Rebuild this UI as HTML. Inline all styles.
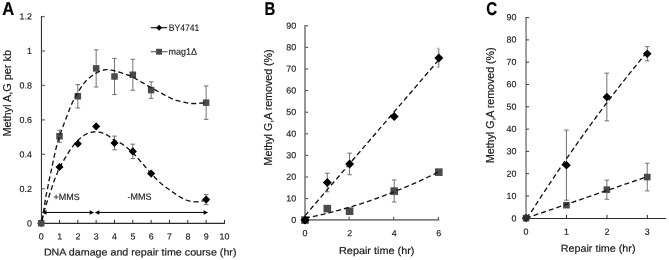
<!DOCTYPE html>
<html><head><meta charset="utf-8"><title>Figure</title>
<style>
html,body{margin:0;padding:0;background:#fff;}
body{width:669px;height:260px;overflow:hidden;font-family:"Liberation Sans",sans-serif;}
svg{display:block;will-change:transform;}
svg text{font-family:"Liberation Sans",sans-serif;}
</style></head><body>
<svg width="669" height="260" viewBox="0 0 669 260">
<rect width="669" height="260" fill="#ffffff"/>
<path d="M41.44 16.06V223.85" stroke="#2b2b2b" stroke-width="1.05" fill="none"/>
<path d="M40.9 223.35H224.97" stroke="#2b2b2b" stroke-width="1.05" fill="none"/>
<path d="M41.9 223.20H44.9" stroke="#707070" stroke-width="1.3"/>
<text x="32.00" y="226.50" transform="rotate(0.03 32.00 226.50)" font-size="8.9" text-anchor="end" fill="#1c1c1c" stroke="#1c1c1c" stroke-width="0.15" textLength="4.95" lengthAdjust="spacingAndGlyphs">0</text>
<path d="M41.9 188.76H44.9" stroke="#707070" stroke-width="1.3"/>
<text x="32.00" y="192.01" transform="rotate(0.03 32.00 192.01)" font-size="8.9" text-anchor="end" fill="#1c1c1c" stroke="#1c1c1c" stroke-width="0.15" textLength="12.37" lengthAdjust="spacingAndGlyphs">0.2</text>
<path d="M41.9 154.32H44.9" stroke="#707070" stroke-width="1.3"/>
<text x="32.00" y="157.52" transform="rotate(0.03 32.00 157.52)" font-size="8.9" text-anchor="end" fill="#1c1c1c" stroke="#1c1c1c" stroke-width="0.15" textLength="12.37" lengthAdjust="spacingAndGlyphs">0.4</text>
<path d="M41.9 119.88H44.9" stroke="#707070" stroke-width="1.3"/>
<text x="32.00" y="123.03" transform="rotate(0.03 32.00 123.03)" font-size="8.9" text-anchor="end" fill="#1c1c1c" stroke="#1c1c1c" stroke-width="0.15" textLength="12.37" lengthAdjust="spacingAndGlyphs">0.6</text>
<path d="M41.9 85.44H44.9" stroke="#707070" stroke-width="1.3"/>
<text x="32.00" y="88.54" transform="rotate(0.03 32.00 88.54)" font-size="8.9" text-anchor="end" fill="#1c1c1c" stroke="#1c1c1c" stroke-width="0.15" textLength="12.37" lengthAdjust="spacingAndGlyphs">0.8</text>
<path d="M41.9 51.00H44.9" stroke="#707070" stroke-width="1.3"/>
<text x="32.00" y="54.05" transform="rotate(0.03 32.00 54.05)" font-size="8.9" text-anchor="end" fill="#1c1c1c" stroke="#1c1c1c" stroke-width="0.15" textLength="4.95" lengthAdjust="spacingAndGlyphs">1</text>
<path d="M41.9 16.56H44.9" stroke="#707070" stroke-width="1.3"/>
<text x="32.00" y="19.56" transform="rotate(0.03 32.00 19.56)" font-size="8.9" text-anchor="end" fill="#1c1c1c" stroke="#1c1c1c" stroke-width="0.15" textLength="12.37" lengthAdjust="spacingAndGlyphs">1.2</text>
<path d="M41.17 223.35V219.9" stroke="#2b2b2b" stroke-width="1"/>
<text x="41.27" y="239.40" transform="rotate(0.03 41.27 239.40)" font-size="8.9" text-anchor="middle" fill="#1c1c1c" stroke="#1c1c1c" stroke-width="0.15" textLength="4.95" lengthAdjust="spacingAndGlyphs">0</text>
<path d="M59.50 223.35V219.9" stroke="#2b2b2b" stroke-width="1"/>
<text x="59.60" y="239.40" transform="rotate(0.03 59.60 239.40)" font-size="8.9" text-anchor="middle" fill="#1c1c1c" stroke="#1c1c1c" stroke-width="0.15" textLength="4.95" lengthAdjust="spacingAndGlyphs">1</text>
<path d="M77.83 223.35V219.9" stroke="#2b2b2b" stroke-width="1"/>
<text x="77.93" y="239.40" transform="rotate(0.03 77.93 239.40)" font-size="8.9" text-anchor="middle" fill="#1c1c1c" stroke="#1c1c1c" stroke-width="0.15" textLength="4.95" lengthAdjust="spacingAndGlyphs">2</text>
<path d="M96.16 223.35V219.9" stroke="#2b2b2b" stroke-width="1"/>
<text x="96.26" y="239.40" transform="rotate(0.03 96.26 239.40)" font-size="8.9" text-anchor="middle" fill="#1c1c1c" stroke="#1c1c1c" stroke-width="0.15" textLength="4.95" lengthAdjust="spacingAndGlyphs">3</text>
<path d="M114.49 223.35V219.9" stroke="#2b2b2b" stroke-width="1"/>
<text x="114.59" y="239.40" transform="rotate(0.03 114.59 239.40)" font-size="8.9" text-anchor="middle" fill="#1c1c1c" stroke="#1c1c1c" stroke-width="0.15" textLength="4.95" lengthAdjust="spacingAndGlyphs">4</text>
<path d="M132.82 223.35V219.9" stroke="#2b2b2b" stroke-width="1"/>
<text x="132.92" y="239.40" transform="rotate(0.03 132.92 239.40)" font-size="8.9" text-anchor="middle" fill="#1c1c1c" stroke="#1c1c1c" stroke-width="0.15" textLength="4.95" lengthAdjust="spacingAndGlyphs">5</text>
<path d="M151.15 223.35V219.9" stroke="#2b2b2b" stroke-width="1"/>
<text x="151.25" y="239.40" transform="rotate(0.03 151.25 239.40)" font-size="8.9" text-anchor="middle" fill="#1c1c1c" stroke="#1c1c1c" stroke-width="0.15" textLength="4.95" lengthAdjust="spacingAndGlyphs">6</text>
<path d="M169.48 223.35V219.9" stroke="#2b2b2b" stroke-width="1"/>
<text x="169.58" y="239.40" transform="rotate(0.03 169.58 239.40)" font-size="8.9" text-anchor="middle" fill="#1c1c1c" stroke="#1c1c1c" stroke-width="0.15" textLength="4.95" lengthAdjust="spacingAndGlyphs">7</text>
<path d="M187.81 223.35V219.9" stroke="#2b2b2b" stroke-width="1"/>
<text x="187.91" y="239.40" transform="rotate(0.03 187.91 239.40)" font-size="8.9" text-anchor="middle" fill="#1c1c1c" stroke="#1c1c1c" stroke-width="0.15" textLength="4.95" lengthAdjust="spacingAndGlyphs">8</text>
<path d="M206.14 223.35V219.9" stroke="#2b2b2b" stroke-width="1"/>
<text x="206.24" y="239.40" transform="rotate(0.03 206.24 239.40)" font-size="8.9" text-anchor="middle" fill="#1c1c1c" stroke="#1c1c1c" stroke-width="0.15" textLength="4.95" lengthAdjust="spacingAndGlyphs">9</text>
<path d="M224.47 223.35V219.9" stroke="#2b2b2b" stroke-width="1"/>
<text x="224.57" y="239.40" transform="rotate(0.03 224.57 239.40)" font-size="8.9" text-anchor="middle" fill="#1c1c1c" stroke="#1c1c1c" stroke-width="0.15" textLength="9.90" lengthAdjust="spacingAndGlyphs">10</text>
<text x="43.90" y="255.40" transform="rotate(0.03 43.90 255.40)" font-size="9.9" text-anchor="start" fill="#1c1c1c" stroke="#1c1c1c" stroke-width="0.2" textLength="192.60" lengthAdjust="spacingAndGlyphs">DNA damage and repair time course (hr)</text>
<text transform="translate(10.80,136.60) rotate(-90)" font-size="10.8" text-anchor="start" fill="#1c1c1c" stroke="#1c1c1c" stroke-width="0.2" textLength="86.60" lengthAdjust="spacingAndGlyphs">Methyl A,G per kb</text>
<text x="2.30" y="15.00" transform="rotate(0.03 2.30 15.00)" font-size="18.6" text-anchor="start" font-weight="bold" fill="#000" stroke="#000" stroke-width="0.2" textLength="12.00" lengthAdjust="spacingAndGlyphs">A</text>
<path d="M59.50 130.21V142.27M57.20 130.21h4.60M57.20 142.27h4.60" stroke="#626262" stroke-width="0.9" fill="none"/>
<path d="M77.83 84.58V108.00M75.53 84.58h4.60M75.53 108.00h4.60" stroke="#626262" stroke-width="0.9" fill="none"/>
<path d="M96.16 49.79V86.99M93.86 49.79h4.60M93.86 86.99h4.60" stroke="#626262" stroke-width="0.9" fill="none"/>
<path d="M114.49 58.40V94.57M112.19 58.40h4.60M112.19 94.57h4.60" stroke="#626262" stroke-width="0.9" fill="none"/>
<path d="M132.82 59.27V90.26M130.52 59.27h4.60M130.52 90.26h4.60" stroke="#626262" stroke-width="0.9" fill="none"/>
<path d="M151.15 81.82V98.36M148.85 81.82h4.60M148.85 98.36h4.60" stroke="#626262" stroke-width="0.9" fill="none"/>
<path d="M206.14 85.96V119.36M203.84 85.96h4.60M203.84 119.36h4.60" stroke="#626262" stroke-width="0.9" fill="none"/>
<path d="M114.49 136.07V149.84M112.19 136.07h4.60M112.19 149.84h4.60" stroke="#626262" stroke-width="0.9" fill="none"/>
<path d="M132.82 144.16V158.62M130.52 144.16h4.60M130.52 158.62h4.60" stroke="#626262" stroke-width="0.9" fill="none"/>
<path d="M206.14 194.61V204.60M203.84 194.61h4.60M203.84 204.60h4.60" stroke="#626262" stroke-width="0.9" fill="none"/>
<path d="M41.17 219.15L45.22 223.20L41.17 227.25L37.12 223.20Z" fill="#3c3c3c"/>
<rect x="37.92" y="219.95" width="6.50" height="6.50" fill="#4a4a4a"/>
<rect x="56.25" y="132.99" width="6.50" height="6.50" fill="#4a4a4a"/>
<rect x="74.58" y="93.04" width="6.50" height="6.50" fill="#4a4a4a"/>
<rect x="92.91" y="65.14" width="6.50" height="6.50" fill="#4a4a4a"/>
<rect x="111.24" y="73.24" width="6.50" height="6.50" fill="#4a4a4a"/>
<rect x="129.57" y="71.51" width="6.50" height="6.50" fill="#4a4a4a"/>
<rect x="147.90" y="86.84" width="6.50" height="6.50" fill="#4a4a4a"/>
<rect x="202.89" y="99.41" width="6.50" height="6.50" fill="#4a4a4a"/>
<path d="M41.90 220.62L41.96 220.34L42.03 220.00L42.11 219.61L42.21 219.18L42.31 218.70L42.41 218.18L42.52 217.64L42.64 217.06L42.76 216.47L42.87 215.85L42.99 215.23L43.09 214.59L43.20 213.93L43.31 213.22L43.42 212.48L43.54 211.71L43.65 210.92L43.77 210.11L43.88 209.29L44.00 208.47L44.12 207.66L44.23 206.85L44.35 206.06L44.47 205.29L44.59 204.54L44.70 203.79L44.82 203.04L44.94 202.29L45.05 201.54L45.17 200.80L45.29 200.07L45.41 199.34L45.53 198.62L45.65 197.91L45.77 197.20L45.90 196.51L46.03 195.83L46.16 195.17L46.29 194.52L46.42 193.88L46.55 193.25L46.69 192.62L46.82 192.00L46.95 191.37L47.09 190.73L47.23 190.09L47.36 189.43L47.49 188.76L47.63 188.06L47.76 187.35L47.90 186.61L48.04 185.86L48.18 185.11L48.31 184.36L48.45 183.61L48.58 182.87L48.72 182.15L48.85 181.46L48.98 180.79L49.11 180.15L49.22 179.60L49.31 179.18L49.38 178.84L49.45 178.56L49.52 178.29L49.59 178.00L49.67 177.66L49.77 177.23L49.90 176.68L50.06 175.97L50.25 175.07L50.50 173.95L50.80 172.55L51.15 170.89L51.54 169.01L51.97 166.97L52.42 164.80L52.89 162.55L53.37 160.28L53.85 158.03L54.32 155.85L54.77 153.78L55.20 151.88L55.60 150.19L55.97 148.66L56.33 147.21L56.69 145.84L57.04 144.55L57.38 143.32L57.71 142.16L58.03 141.05L58.35 140.00L58.65 139.00L58.94 138.04L59.23 137.12L59.50 136.24L59.75 135.42L59.99 134.70L60.21 134.06L60.41 133.48L60.60 132.96L60.79 132.46L60.98 131.99L61.16 131.51L61.35 131.03L61.55 130.52L61.77 129.96L61.99 129.35L62.22 128.72L62.44 128.13L62.65 127.54L62.86 126.96L63.07 126.37L63.30 125.75L63.54 125.09L63.80 124.38L64.09 123.60L64.41 122.74L64.78 121.80L65.18 120.74L65.64 119.56L66.13 118.24L66.66 116.81L67.22 115.29L67.82 113.71L68.43 112.09L69.06 110.44L69.71 108.80L70.36 107.17L71.02 105.59L71.68 104.08L72.33 102.66L73.00 101.29L73.69 99.92L74.40 98.57L75.13 97.23L75.86 95.91L76.60 94.62L77.34 93.37L78.07 92.16L78.78 90.99L79.47 89.88L80.13 88.83L80.76 87.85L81.35 86.95L81.89 86.12L82.41 85.36L82.89 84.66L83.37 84.01L83.83 83.40L84.30 82.81L84.78 82.24L85.28 81.68L85.81 81.11L86.38 80.53L87.00 79.93L87.66 79.31L88.35 78.68L89.08 78.05L89.83 77.42L90.61 76.80L91.39 76.20L92.19 75.60L93.00 75.03L93.80 74.49L94.60 73.97L95.39 73.49L96.16 73.04L96.92 72.63L97.69 72.24L98.45 71.87L99.22 71.52L99.98 71.20L100.74 70.91L101.51 70.64L102.27 70.41L103.03 70.20L103.80 70.02L104.56 69.88L105.33 69.77L106.08 69.70L106.82 69.66L107.55 69.66L108.28 69.69L109.00 69.76L109.74 69.85L110.48 69.96L111.23 70.10L112.01 70.25L112.80 70.42L113.63 70.61L114.49 70.80L115.40 71.03L116.38 71.29L117.40 71.58L118.46 71.91L119.54 72.25L120.62 72.60L121.69 72.96L122.74 73.32L123.75 73.66L124.71 74.00L125.60 74.31L126.40 74.59L127.09 74.82L127.65 75.00L128.12 75.14L128.51 75.25L128.86 75.35L129.21 75.46L129.58 75.60L130.00 75.77L130.51 76.00L131.12 76.30L131.89 76.69L132.82 77.17L133.93 77.77L135.19 78.47L136.56 79.26L138.05 80.11L139.61 81.02L141.24 81.97L142.91 82.95L144.60 83.93L146.29 84.92L147.96 85.88L149.58 86.80L151.15 87.68L152.72 88.54L154.35 89.44L156.02 90.35L157.71 91.27L159.41 92.18L161.08 93.08L162.71 93.95L164.28 94.78L165.76 95.56L167.14 96.28L168.38 96.93L169.48 97.49L170.39 97.96L171.13 98.34L171.71 98.64L172.18 98.88L172.56 99.07L172.88 99.22L173.19 99.34L173.51 99.46L173.87 99.58L174.30 99.71L174.85 99.87L175.53 100.08L176.35 100.32L177.27 100.57L178.28 100.84L179.34 101.12L180.45 101.39L181.59 101.67L182.73 101.94L183.85 102.19L184.94 102.43L185.98 102.65L186.94 102.84L187.81 103.00L188.58 103.14L189.28 103.25L189.91 103.34L190.48 103.41L191.03 103.46L191.56 103.50L192.08 103.53L192.61 103.54L193.17 103.55L193.77 103.54L194.42 103.53L195.14 103.52L195.97 103.49L196.89 103.45L197.89 103.38L198.94 103.30L200.02 103.22L201.10 103.12L202.15 103.03L203.15 102.93L204.08 102.85L204.90 102.77L205.60 102.71L206.14 102.66" stroke="#141414" stroke-width="1.35" stroke-dasharray="5 3" fill="none"/>
<path d="M42.09 220.62L42.14 220.34L42.20 220.00L42.27 219.61L42.35 219.18L42.43 218.70L42.53 218.18L42.63 217.64L42.75 217.06L42.87 216.47L43.00 215.85L43.14 215.23L43.30 214.59L43.46 213.93L43.64 213.22L43.84 212.48L44.05 211.71L44.26 210.92L44.49 210.11L44.72 209.29L44.95 208.47L45.19 207.66L45.43 206.85L45.66 206.06L45.90 205.29L46.14 204.54L46.38 203.78L46.63 203.03L46.89 202.27L47.15 201.53L47.41 200.78L47.67 200.04L47.93 199.32L48.18 198.60L48.43 197.89L48.67 197.19L48.91 196.51L49.13 195.85L49.34 195.22L49.55 194.61L49.75 194.01L49.95 193.42L50.15 192.84L50.34 192.25L50.54 191.66L50.74 191.06L50.95 190.43L51.17 189.78L51.40 189.10L51.64 188.39L51.88 187.64L52.13 186.86L52.39 186.07L52.65 185.26L52.91 184.44L53.18 183.63L53.45 182.82L53.71 182.03L53.98 181.26L54.24 180.51L54.50 179.81L54.75 179.12L55.02 178.44L55.29 177.78L55.56 177.13L55.83 176.49L56.09 175.87L56.35 175.26L56.61 174.68L56.85 174.11L57.08 173.58L57.30 173.06L57.50 172.57L57.65 172.17L57.74 171.87L57.78 171.65L57.79 171.49L57.80 171.35L57.81 171.20L57.84 171.01L57.93 170.75L58.08 170.39L58.31 169.91L58.64 169.27L59.10 168.44L59.69 167.39L60.41 166.12L61.24 164.67L62.16 163.08L63.14 161.40L64.16 159.66L65.21 157.90L66.25 156.16L67.27 154.48L68.26 152.89L69.17 151.45L70.00 150.19L70.76 149.07L71.47 148.05L72.14 147.11L72.79 146.23L73.41 145.42L74.03 144.66L74.63 143.93L75.24 143.24L75.85 142.56L76.48 141.89L77.14 141.22L77.83 140.54L78.55 139.86L79.28 139.18L80.03 138.51L80.79 137.85L81.55 137.22L82.33 136.60L83.11 136.02L83.89 135.47L84.67 134.95L85.45 134.47L86.23 134.04L87.00 133.66L87.76 133.32L88.52 133.03L89.29 132.77L90.05 132.56L90.81 132.38L91.58 132.24L92.34 132.12L93.10 132.04L93.87 131.98L94.63 131.94L95.40 131.93L96.16 131.93L96.92 131.96L97.69 132.01L98.45 132.09L99.22 132.19L99.98 132.32L100.74 132.47L101.51 132.65L102.27 132.87L103.03 133.10L103.80 133.37L104.56 133.67L105.33 134.00L106.09 134.38L106.86 134.81L107.63 135.30L108.40 135.82L109.17 136.38L109.94 136.95L110.71 137.53L111.48 138.11L112.24 138.67L112.99 139.22L113.75 139.73L114.49 140.20L115.22 140.62L115.94 141.00L116.66 141.35L117.36 141.68L118.06 142.00L118.76 142.31L119.47 142.63L120.17 142.97L120.89 143.33L121.61 143.73L122.35 144.18L123.11 144.68L123.88 145.23L124.67 145.82L125.47 146.44L126.28 147.09L127.10 147.77L127.93 148.47L128.76 149.18L129.58 149.92L130.40 150.67L131.22 151.42L132.03 152.18L132.82 152.94L133.60 153.71L134.38 154.50L135.15 155.30L135.92 156.12L136.68 156.95L137.44 157.79L138.19 158.63L138.95 159.49L139.71 160.34L140.46 161.21L141.22 162.07L141.99 162.93L142.75 163.80L143.50 164.68L144.25 165.56L145.00 166.46L145.75 167.36L146.50 168.26L147.25 169.16L148.01 170.06L148.78 170.96L149.56 171.85L150.35 172.73L151.15 173.61L151.96 174.48L152.78 175.35L153.60 176.22L154.44 177.09L155.27 177.95L156.12 178.82L156.98 179.67L157.84 180.51L158.72 181.35L159.61 182.17L160.50 182.98L161.41 183.77L162.35 184.55L163.30 185.32L164.28 186.08L165.27 186.83L166.27 187.58L167.28 188.31L168.29 189.03L169.29 189.73L170.28 190.42L171.26 191.09L172.22 191.74L173.15 192.38L174.06 193.00L174.95 193.61L175.84 194.21L176.71 194.79L177.57 195.36L178.43 195.92L179.27 196.45L180.11 196.96L180.94 197.45L181.77 197.91L182.59 198.34L183.41 198.75L184.23 199.12L185.04 199.47L185.84 199.80L186.64 200.10L187.44 200.38L188.22 200.63L189.00 200.86L189.77 201.07L190.53 201.25L191.29 201.42L192.03 201.56L192.76 201.67L193.48 201.77L194.21 201.82L194.93 201.85L195.64 201.85L196.35 201.83L197.04 201.79L197.72 201.74L198.39 201.67L199.03 201.59L199.65 201.51L200.25 201.42L200.82 201.33L201.38 201.23L201.93 201.10L202.47 200.96L203.00 200.79L203.50 200.62L203.99 200.45L204.44 200.27L204.86 200.11L205.25 199.95L205.59 199.81L205.89 199.70L206.14 199.61" stroke="#141414" stroke-width="1.35" stroke-dasharray="5 3" fill="none"/>
<path d="M59.50 163.01L63.55 167.06L59.50 171.11L55.45 167.06Z" fill="#000000"/>
<path d="M77.83 139.77L81.88 143.82L77.83 147.87L73.78 143.82Z" fill="#000000"/>
<path d="M96.16 122.37L100.21 126.42L96.16 130.47L92.11 126.42Z" fill="#000000"/>
<path d="M114.49 138.90L118.54 142.95L114.49 147.00L110.44 142.95Z" fill="#000000"/>
<path d="M132.82 147.34L136.87 151.39L132.82 155.44L128.77 151.39Z" fill="#000000"/>
<path d="M151.15 169.56L155.20 173.61L151.15 177.66L147.10 173.61Z" fill="#000000"/>
<path d="M206.14 195.56L210.19 199.61L206.14 203.66L202.09 199.61Z" fill="#000000"/>
<path d="M150.8 27.7H167.2" stroke="#111" stroke-width="1.15"/>
<path d="M159.10 24.75L162.05 27.70L159.10 30.65L156.15 27.70Z" fill="#000000"/>
<text x="168.80" y="30.90" transform="rotate(0.03 168.80 30.90)" font-size="9.4" text-anchor="start" fill="#1c1c1c" stroke="#1c1c1c" stroke-width="0.15" textLength="30.60" lengthAdjust="spacingAndGlyphs">BY4741</text>
<path d="M150.8 51.75H167.6" stroke="#4a4a4a" stroke-width="1.0"/>
<rect x="156.10" y="48.80" width="5.90" height="5.90" fill="#4a4a4a"/>
<text x="168.60" y="54.70" transform="rotate(0.03 168.60 54.70)" font-size="9.4" text-anchor="start" fill="#1c1c1c" stroke="#1c1c1c" stroke-width="0.15" textLength="28.50" lengthAdjust="spacingAndGlyphs">mag1Δ</text>
<path d="M45 212.45H91" stroke="#000" stroke-width="1.0"/>
<path d="M42.00 212.45l4.5 -2.2v4.4z" fill="#000"/>
<path d="M94.20 212.45l-4.5 -2.2v4.4z" fill="#000"/>
<path d="M98 212.45H205" stroke="#000" stroke-width="1.0"/>
<path d="M94.90 212.45l4.5 -2.2v4.4z" fill="#000"/>
<path d="M208.10 212.45l-4.5 -2.2v4.4z" fill="#000"/>
<text x="53.60" y="199.90" transform="rotate(0.03 53.60 199.90)" font-size="9.0" text-anchor="start" fill="#222" stroke="#222" stroke-width="0.15">+MMS</text>
<text x="127.40" y="199.80" transform="rotate(0.03 127.40 199.80)" font-size="9.0" text-anchor="start" fill="#222" stroke="#222" stroke-width="0.15">-MMS</text>
<path d="M305.00 25.00V220.70" stroke="#7c7c7c" stroke-width="1.6" fill="none"/>
<path d="M304.20 219.90H439.30" stroke="#7c7c7c" stroke-width="1.6" fill="none"/>
<path d="M305.50 220.20H308.00" stroke="#2b2b2b" stroke-width="0.9"/>
<text x="296.10" y="223.05" transform="rotate(0.03 296.10 223.05)" font-size="8.9" text-anchor="end" fill="#1c1c1c" stroke="#1c1c1c" stroke-width="0.15" textLength="4.95" lengthAdjust="spacingAndGlyphs">0</text>
<path d="M305.50 198.60H308.00" stroke="#2b2b2b" stroke-width="0.9"/>
<text x="296.10" y="201.45" transform="rotate(0.03 296.10 201.45)" font-size="8.9" text-anchor="end" fill="#1c1c1c" stroke="#1c1c1c" stroke-width="0.15" textLength="9.90" lengthAdjust="spacingAndGlyphs">10</text>
<path d="M305.50 177.00H308.00" stroke="#2b2b2b" stroke-width="0.9"/>
<text x="296.10" y="179.85" transform="rotate(0.03 296.10 179.85)" font-size="8.9" text-anchor="end" fill="#1c1c1c" stroke="#1c1c1c" stroke-width="0.15" textLength="9.90" lengthAdjust="spacingAndGlyphs">20</text>
<path d="M305.50 155.40H308.00" stroke="#2b2b2b" stroke-width="0.9"/>
<text x="296.10" y="158.25" transform="rotate(0.03 296.10 158.25)" font-size="8.9" text-anchor="end" fill="#1c1c1c" stroke="#1c1c1c" stroke-width="0.15" textLength="9.90" lengthAdjust="spacingAndGlyphs">30</text>
<path d="M305.50 133.80H308.00" stroke="#2b2b2b" stroke-width="0.9"/>
<text x="296.10" y="136.65" transform="rotate(0.03 296.10 136.65)" font-size="8.9" text-anchor="end" fill="#1c1c1c" stroke="#1c1c1c" stroke-width="0.15" textLength="9.90" lengthAdjust="spacingAndGlyphs">40</text>
<path d="M305.50 112.20H308.00" stroke="#2b2b2b" stroke-width="0.9"/>
<text x="296.10" y="115.05" transform="rotate(0.03 296.10 115.05)" font-size="8.9" text-anchor="end" fill="#1c1c1c" stroke="#1c1c1c" stroke-width="0.15" textLength="9.90" lengthAdjust="spacingAndGlyphs">50</text>
<path d="M305.50 90.60H308.00" stroke="#2b2b2b" stroke-width="0.9"/>
<text x="296.10" y="93.45" transform="rotate(0.03 296.10 93.45)" font-size="8.9" text-anchor="end" fill="#1c1c1c" stroke="#1c1c1c" stroke-width="0.15" textLength="9.90" lengthAdjust="spacingAndGlyphs">60</text>
<path d="M305.50 69.00H308.00" stroke="#2b2b2b" stroke-width="0.9"/>
<text x="296.10" y="71.85" transform="rotate(0.03 296.10 71.85)" font-size="8.9" text-anchor="end" fill="#1c1c1c" stroke="#1c1c1c" stroke-width="0.15" textLength="9.90" lengthAdjust="spacingAndGlyphs">70</text>
<path d="M305.50 47.40H308.00" stroke="#2b2b2b" stroke-width="0.9"/>
<text x="296.10" y="50.25" transform="rotate(0.03 296.10 50.25)" font-size="8.9" text-anchor="end" fill="#1c1c1c" stroke="#1c1c1c" stroke-width="0.15" textLength="9.90" lengthAdjust="spacingAndGlyphs">80</text>
<path d="M305.50 25.80H308.00" stroke="#2b2b2b" stroke-width="0.9"/>
<text x="296.10" y="28.65" transform="rotate(0.03 296.10 28.65)" font-size="8.9" text-anchor="end" fill="#1c1c1c" stroke="#1c1c1c" stroke-width="0.15" textLength="9.90" lengthAdjust="spacingAndGlyphs">90</text>
<path d="M304.50 219.40V216.80" stroke="#2b2b2b" stroke-width="0.9"/>
<text x="305.00" y="236.30" transform="rotate(0.03 305.00 236.30)" font-size="8.9" text-anchor="middle" fill="#1c1c1c" stroke="#1c1c1c" stroke-width="0.15" textLength="4.95" lengthAdjust="spacingAndGlyphs">0</text>
<path d="M349.10 219.40V216.80" stroke="#2b2b2b" stroke-width="0.9"/>
<text x="349.60" y="236.30" transform="rotate(0.03 349.60 236.30)" font-size="8.9" text-anchor="middle" fill="#1c1c1c" stroke="#1c1c1c" stroke-width="0.15" textLength="4.95" lengthAdjust="spacingAndGlyphs">2</text>
<path d="M393.70 219.40V216.80" stroke="#2b2b2b" stroke-width="0.9"/>
<text x="394.20" y="236.30" transform="rotate(0.03 394.20 236.30)" font-size="8.9" text-anchor="middle" fill="#1c1c1c" stroke="#1c1c1c" stroke-width="0.15" textLength="4.95" lengthAdjust="spacingAndGlyphs">4</text>
<path d="M438.30 219.40V216.80" stroke="#2b2b2b" stroke-width="0.9"/>
<text x="438.80" y="236.30" transform="rotate(0.03 438.80 236.30)" font-size="8.9" text-anchor="middle" fill="#1c1c1c" stroke="#1c1c1c" stroke-width="0.15" textLength="4.95" lengthAdjust="spacingAndGlyphs">6</text>
<text x="339.00" y="253.90" transform="rotate(0.03 339.00 253.90)" font-size="10.1" text-anchor="start" fill="#1c1c1c" stroke="#1c1c1c" stroke-width="0.2" textLength="75.40" lengthAdjust="spacingAndGlyphs">Repair time (hr)</text>
<text transform="translate(271.90,165.40) rotate(-90)" font-size="10.1" text-anchor="start" fill="#1c1c1c" stroke="#1c1c1c" stroke-width="0.2" textLength="116.00" lengthAdjust="spacingAndGlyphs">Methyl G,A removed (%)</text>
<text x="264.60" y="15.10" transform="rotate(0.03 264.60 15.10)" font-size="18.6" text-anchor="start" font-weight="bold" fill="#000" stroke="#000" stroke-width="0.2" textLength="10.80" lengthAdjust="spacingAndGlyphs">B</text>
<path d="M327.30 173.24V191.82M325.00 173.24h4.60M325.00 191.82h4.60" stroke="#626262" stroke-width="0.9" fill="none"/>
<path d="M349.60 153.16V174.76M347.30 153.16h4.60M347.30 174.76h4.60" stroke="#626262" stroke-width="0.9" fill="none"/>
<path d="M438.60 48.18V67.62" stroke="#9c9c9c" stroke-width="1.7" fill="none"/>
<path d="M436.50 48.18h2.3M436.50 67.62h2.3" stroke="#b0b0b0" stroke-width="0.9" fill="none"/>
<path d="M394.20 179.94V201.97M391.90 179.94h4.60M391.90 201.97h4.60" stroke="#626262" stroke-width="0.9" fill="none"/>
<rect x="301.20" y="216.30" width="7.60" height="7.60" fill="#4a4a4a"/>
<rect x="323.50" y="204.85" width="7.60" height="7.60" fill="#4a4a4a"/>
<rect x="345.80" y="207.44" width="7.60" height="7.60" fill="#4a4a4a"/>
<rect x="390.40" y="187.36" width="7.60" height="7.60" fill="#4a4a4a"/>
<rect x="435.00" y="168.35" width="7.60" height="7.60" fill="#4a4a4a"/>
<path d="M305.00 215.64L438.80 59.87" stroke="#141414" stroke-width="1.35" stroke-dasharray="5 3" fill="none"/>
<path d="M305.00 218.17L307.23 217.73L309.46 217.28L311.69 216.81L313.92 216.34L316.15 215.85L318.38 215.35L320.61 214.85L322.84 214.33L325.07 213.79L327.30 213.25L329.53 212.70L331.76 212.13L333.99 211.56L336.22 210.97L338.45 210.37L340.68 209.76L342.91 209.14L345.14 208.51L347.37 207.87L349.60 207.21L351.83 206.55L354.06 205.87L356.29 205.18L358.52 204.48L360.75 203.77L362.98 203.05L365.21 202.32L367.44 201.58L369.67 200.82L371.90 200.05L374.13 199.28L376.36 198.49L378.59 197.69L380.82 196.88L383.05 196.06L385.28 195.22L387.51 194.38L389.74 193.52L391.97 192.65L394.20 191.78L396.43 190.89L398.66 189.99L400.89 189.08L403.12 188.15L405.35 187.22L407.58 186.27L409.81 185.32L412.04 184.35L414.27 183.37L416.50 182.38L418.73 181.38L420.96 180.37L423.19 179.34L425.42 178.31L427.65 177.26L429.88 176.21L432.11 175.14L434.34 174.06L436.57 172.97L438.80 171.87" stroke="#141414" stroke-width="1.35" stroke-dasharray="5 3" fill="none"/>
<path d="M305.00 215.40L309.50 219.90L305.00 224.40L300.50 219.90Z" fill="#000000"/>
<path d="M327.30 178.03L331.80 182.53L327.30 187.03L322.80 182.53Z" fill="#000000"/>
<path d="M349.60 159.46L354.10 163.96L349.60 168.46L345.10 163.96Z" fill="#000000"/>
<path d="M394.20 111.94L398.70 116.44L394.20 120.94L389.70 116.44Z" fill="#000000"/>
<path d="M438.80 53.40L443.30 57.90L438.80 62.40L434.30 57.90Z" fill="#000000"/>
<path d="M526.06 16.90V218.60" stroke="#808080" stroke-width="1.5" fill="none"/>
<path d="M525.3 218.4H666.24" stroke="#2b2b2b" stroke-width="1.05" fill="none"/>
<path d="M526.0 218.30H529.1" stroke="#2b2b2b" stroke-width="0.9"/>
<text x="516.40" y="221.50" transform="rotate(0.03 516.40 221.50)" font-size="8.9" text-anchor="end" fill="#1c1c1c" stroke="#1c1c1c" stroke-width="0.15" textLength="4.95" lengthAdjust="spacingAndGlyphs">0</text>
<path d="M526.0 196.00H529.1" stroke="#2b2b2b" stroke-width="0.9"/>
<text x="516.40" y="199.13" transform="rotate(0.03 516.40 199.13)" font-size="8.9" text-anchor="end" fill="#1c1c1c" stroke="#1c1c1c" stroke-width="0.15" textLength="9.90" lengthAdjust="spacingAndGlyphs">10</text>
<path d="M526.0 173.70H529.1" stroke="#2b2b2b" stroke-width="0.9"/>
<text x="516.40" y="176.76" transform="rotate(0.03 516.40 176.76)" font-size="8.9" text-anchor="end" fill="#1c1c1c" stroke="#1c1c1c" stroke-width="0.15" textLength="9.90" lengthAdjust="spacingAndGlyphs">20</text>
<path d="M526.0 151.40H529.1" stroke="#2b2b2b" stroke-width="0.9"/>
<text x="516.40" y="154.39" transform="rotate(0.03 516.40 154.39)" font-size="8.9" text-anchor="end" fill="#1c1c1c" stroke="#1c1c1c" stroke-width="0.15" textLength="9.90" lengthAdjust="spacingAndGlyphs">30</text>
<path d="M526.0 129.10H529.1" stroke="#2b2b2b" stroke-width="0.9"/>
<text x="516.40" y="132.02" transform="rotate(0.03 516.40 132.02)" font-size="8.9" text-anchor="end" fill="#1c1c1c" stroke="#1c1c1c" stroke-width="0.15" textLength="9.90" lengthAdjust="spacingAndGlyphs">40</text>
<path d="M526.0 106.80H529.1" stroke="#2b2b2b" stroke-width="0.9"/>
<text x="516.40" y="109.65" transform="rotate(0.03 516.40 109.65)" font-size="8.9" text-anchor="end" fill="#1c1c1c" stroke="#1c1c1c" stroke-width="0.15" textLength="9.90" lengthAdjust="spacingAndGlyphs">50</text>
<path d="M526.0 84.50H529.1" stroke="#2b2b2b" stroke-width="0.9"/>
<text x="516.40" y="87.28" transform="rotate(0.03 516.40 87.28)" font-size="8.9" text-anchor="end" fill="#1c1c1c" stroke="#1c1c1c" stroke-width="0.15" textLength="9.90" lengthAdjust="spacingAndGlyphs">60</text>
<path d="M526.0 62.20H529.1" stroke="#2b2b2b" stroke-width="0.9"/>
<text x="516.40" y="64.91" transform="rotate(0.03 516.40 64.91)" font-size="8.9" text-anchor="end" fill="#1c1c1c" stroke="#1c1c1c" stroke-width="0.15" textLength="9.90" lengthAdjust="spacingAndGlyphs">70</text>
<path d="M526.0 39.90H529.1" stroke="#2b2b2b" stroke-width="0.9"/>
<text x="516.40" y="42.54" transform="rotate(0.03 516.40 42.54)" font-size="8.9" text-anchor="end" fill="#1c1c1c" stroke="#1c1c1c" stroke-width="0.15" textLength="9.90" lengthAdjust="spacingAndGlyphs">80</text>
<path d="M526.0 17.60H529.1" stroke="#2b2b2b" stroke-width="0.9"/>
<text x="516.40" y="20.17" transform="rotate(0.03 516.40 20.17)" font-size="8.9" text-anchor="end" fill="#1c1c1c" stroke="#1c1c1c" stroke-width="0.15" textLength="9.90" lengthAdjust="spacingAndGlyphs">90</text>
<path d="M526.15 218.4V214.9" stroke="#2b2b2b" stroke-width="1"/>
<text x="526.05" y="234.70" transform="rotate(0.03 526.05 234.70)" font-size="8.9" text-anchor="middle" fill="#1c1c1c" stroke="#1c1c1c" stroke-width="0.15" textLength="4.95" lengthAdjust="spacingAndGlyphs">0</text>
<path d="M566.55 218.4V214.9" stroke="#2b2b2b" stroke-width="1"/>
<text x="566.45" y="234.70" transform="rotate(0.03 566.45 234.70)" font-size="8.9" text-anchor="middle" fill="#1c1c1c" stroke="#1c1c1c" stroke-width="0.15" textLength="4.95" lengthAdjust="spacingAndGlyphs">1</text>
<path d="M606.95 218.4V214.9" stroke="#2b2b2b" stroke-width="1"/>
<text x="606.85" y="234.70" transform="rotate(0.03 606.85 234.70)" font-size="8.9" text-anchor="middle" fill="#1c1c1c" stroke="#1c1c1c" stroke-width="0.15" textLength="4.95" lengthAdjust="spacingAndGlyphs">2</text>
<path d="M647.35 218.4V214.9" stroke="#2b2b2b" stroke-width="1"/>
<text x="647.25" y="234.70" transform="rotate(0.03 647.25 234.70)" font-size="8.9" text-anchor="middle" fill="#1c1c1c" stroke="#1c1c1c" stroke-width="0.15" textLength="4.95" lengthAdjust="spacingAndGlyphs">3</text>
<text x="560.70" y="251.80" transform="rotate(0.03 560.70 251.80)" font-size="10.1" text-anchor="start" fill="#1c1c1c" stroke="#1c1c1c" stroke-width="0.2" textLength="74.80" lengthAdjust="spacingAndGlyphs">Repair time (hr)</text>
<text transform="translate(494.00,163.10) rotate(-90)" font-size="10.1" text-anchor="start" fill="#1c1c1c" stroke="#1c1c1c" stroke-width="0.2" textLength="115.70" lengthAdjust="spacingAndGlyphs">Methyl G,A removed (%)</text>
<text x="486.30" y="15.40" transform="rotate(0.03 486.30 15.40)" font-size="18.6" text-anchor="start" font-weight="bold" fill="#000" stroke="#000" stroke-width="0.2" textLength="10.90" lengthAdjust="spacingAndGlyphs">C</text>
<path d="M566.45 130.13V200.15M564.15 130.13h4.60M564.15 200.15h4.60" stroke="#626262" stroke-width="0.9" fill="none"/>
<path d="M606.85 73.15V120.87M604.55 73.15h4.60M604.55 120.87h4.60" stroke="#626262" stroke-width="0.9" fill="none"/>
<path d="M647.25 46.61V60.88M644.95 46.61h4.60M644.95 60.88h4.60" stroke="#626262" stroke-width="0.9" fill="none"/>
<path d="M606.85 180.08V199.26M604.55 180.08h4.60M604.55 199.26h4.60" stroke="#626262" stroke-width="0.9" fill="none"/>
<path d="M647.25 163.24V190.89M644.95 163.24h4.60M644.95 190.89h4.60" stroke="#626262" stroke-width="0.9" fill="none"/>
<rect x="522.75" y="214.80" width="6.60" height="6.60" fill="#4a4a4a"/>
<rect x="563.15" y="201.87" width="6.60" height="6.60" fill="#4a4a4a"/>
<rect x="603.55" y="186.37" width="6.60" height="6.60" fill="#4a4a4a"/>
<rect x="643.95" y="173.77" width="6.60" height="6.60" fill="#4a4a4a"/>
<path d="M526.05 218.10L530.09 213.67L534.13 207.37L538.17 201.12L542.21 194.93L546.25 188.78L550.29 182.69L554.33 176.65L558.37 170.65L562.41 164.71L566.45 158.83L570.49 152.99L574.53 147.20L578.57 141.47L582.61 135.79L586.65 130.15L590.69 124.57L594.73 119.04L598.77 113.57L602.81 108.14L606.85 102.76L610.89 97.44L614.93 92.17L618.97 86.95L623.01 81.78L627.05 76.66L631.09 71.59L635.13 66.57L639.17 61.61L643.21 56.69L647.25 51.83" stroke="#141414" stroke-width="1.35" stroke-dasharray="5 3" fill="none"/>
<path d="M526.05 218.19L647.25 176.64" stroke="#141414" stroke-width="1.35" stroke-dasharray="5 3" fill="none"/>
<path d="M526.05 213.80L530.35 218.10L526.05 222.40L521.75 218.10Z" fill="#2b2b2b"/>
<path d="M566.45 160.84L570.75 165.14L566.45 169.44L562.15 165.14Z" fill="#000000"/>
<path d="M606.85 92.71L611.15 97.01L606.85 101.31L602.55 97.01Z" fill="#000000"/>
<path d="M647.25 49.45L651.55 53.75L647.25 58.05L642.95 53.75Z" fill="#000000"/>
</svg>
</body></html>
